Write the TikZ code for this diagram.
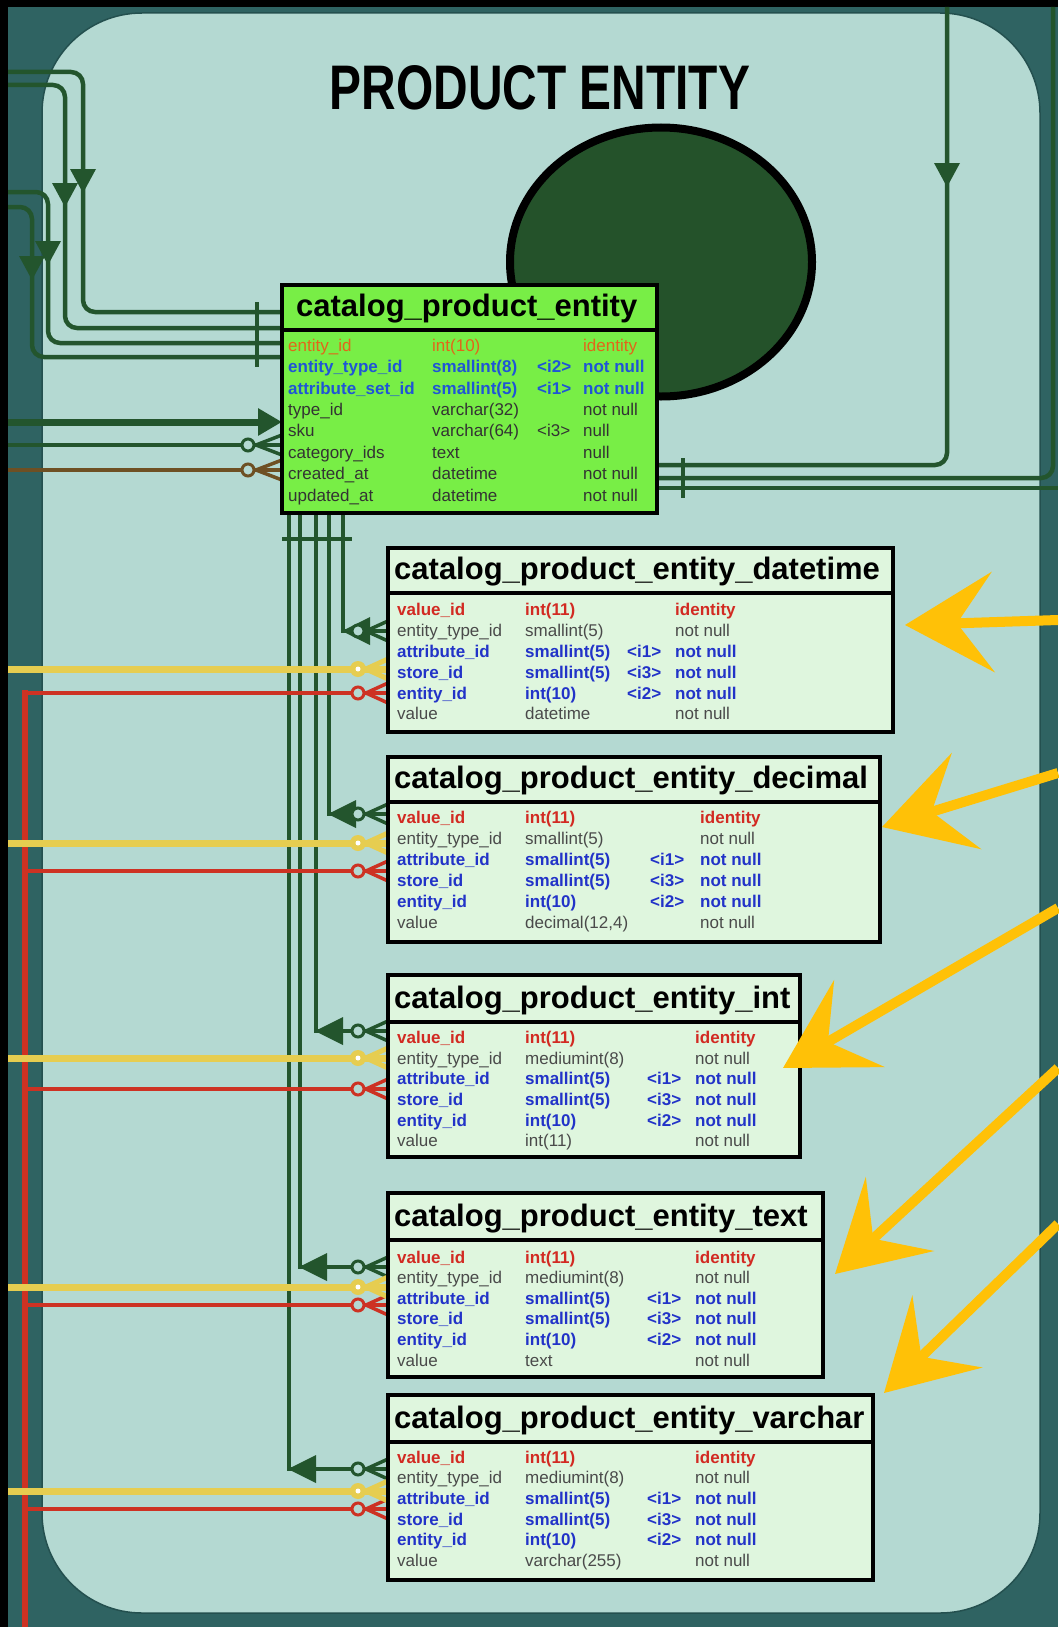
\documentclass[tikz,border=0pt]{standalone}
\usepackage{fontspec}
\usepackage{graphicx}
\setmainfont{Liberation Sans}
\usetikzlibrary{arrows.meta,shapes.geometric}
\definecolor{outerteal}{HTML}{2F6362}
\definecolor{innerteal}{HTML}{B4D9D2}
\definecolor{edgeteal}{HTML}{24504F}
\definecolor{gline}{HTML}{23552D}
\definecolor{brownline}{HTML}{6E5023}
\definecolor{yline}{HTML}{E6CD50}
\definecolor{rline}{HTML}{CD3223}
\definecolor{arrowgold}{HTML}{FFC107}
\definecolor{maingreen}{HTML}{78EE46}
\definecolor{childfill}{HTML}{DFF6DE}
\definecolor{blobgreen}{HTML}{24522A}
\definecolor{txtred}{HTML}{D22A22}
\definecolor{txtblue}{HTML}{2233C8}
\definecolor{txtgray}{HTML}{4A4A4A}
\definecolor{txtorange}{HTML}{E2661A}
\definecolor{txtmblue}{HTML}{1F55D6}
\definecolor{txtdark}{HTML}{333333}
\pgfdeclarelayer{back}
\pgfdeclarelayer{lines}
\pgfsetlayers{back,lines,main}
\newcommand\rowfont{\fontsize{17}{20}\selectfont}
\newcommand\hdrfont{\bfseries\fontsize{31}{31}\selectfont}
\newcommand\dtri[2]{\fill[gline] (#1-13,#2-24) -- (#1+13,#2-24) -- (#1,#2) -- cycle;}
\newcommand\ltri[2]{\fill[gline] (#1,#2) -- (#1+28,#2-14) -- (#1+28,#2+14) -- cycle;}
\newcommand\crowfoot[4]{\draw[#1] (#2,#3) -- (#4,#3-10) (#2,#3) -- (#4,#3+10) (#2,#3) -- (#4,#3);}
\newcommand\setcols[4]{\def\cxa{#1}\def\cxb{#2}\def\cxc{#3}\def\cxd{#4}}
\newcommand\trow[7]{%
 \node[cell,#3] (#1a) at (\cxa,#2+6) {#4};
 \node[cell,#3] (#1b) at (\cxb,#2+6) {#5};
 \node[cell,#3] (#1c) at (\cxc,#2+6) {#6};
 \node[cell,#3] (#1d) at (\cxd,#2+6) {#7};}
\newcommand\etab[9]{%
 \node[tabbox,fill=#7,anchor=north west,minimum width={(#4-#2)*1pt},minimum height={(#6-#3)*1pt}] (#1) at (#2,#3) {};
 \draw[line width=4pt] (#2,#5) -- (#4,#5);
 \node[hdr,anchor=base west] (#1-title) at (#2+#9,#5-14) {#8};}
\newcommand\childrows[9]{%
 \trow{#1r1}{#2}{tred}{value\_id}{int(11)}{}{identity}
 \trow{#1r2}{#3}{tgray}{entity\_type\_id}{#8}{}{not null}
 \trow{#1r3}{#4}{tblue}{attribute\_id}{smallint(5)}{<i1>}{not null}
 \trow{#1r4}{#5}{tblue}{store\_id}{smallint(5)}{<i3>}{not null}
 \trow{#1r5}{#6}{tblue}{entity\_id}{int(10)}{<i2>}{not null}
 \trow{#1r6}{#7}{tgray}{value}{#9}{}{not null}}
\begin{document}
\begin{tikzpicture}[x=1pt,y=-1pt,
  gl/.style={draw=gline,line width=4.5pt},
  yl/.style={draw=yline,line width=7pt},
  rl/.style={draw=rline,line width=4.5pt},
  brl/.style={draw=brownline,line width=4.5pt},
  tabbox/.style={draw=black,line width=4pt,inner sep=0pt,outer sep=0pt},
  hdr/.style={font=\hdrfont,inner sep=0pt,text=black},
  cell/.style={anchor=base west,inner sep=0pt,font=\rowfont},
  tred/.style={text=txtred,font=\rowfont\bfseries},
  tblue/.style={text=txtblue,font=\rowfont\bfseries},
  tgray/.style={text=txtgray},
  torange/.style={text=txtorange},
  tmblue/.style={text=txtmblue,font=\rowfont\bfseries},
  tdark/.style={text=txtdark},
  gcirc/.style={draw=gline,line width=3pt,fill=innerteal},
  rcirc/.style={draw=rline,line width=3pt,fill=innerteal},
  bcirc/.style={draw=brownline,line width=3pt,fill=innerteal},
  goldarrow/.style={draw=arrowgold,line width=10pt,-{Stealth[length=88pt,width=100pt,inset=36pt]}}]
\useasboundingbox (0,0) rectangle (1058,1627);
\begin{pgfonlayer}{back}
\fill[black] (0,0) rectangle (1058,1627);
\fill[outerteal] (8,7) rectangle (1058,1627);
\filldraw[fill=innerteal,draw=edgeteal,line width=1.5pt,rounded corners=100pt] (42,13) rectangle (1040,1613);
\end{pgfonlayer}
% title and blob
\node[font=\bfseries\fontsize{63}{63}\selectfont,inner sep=0pt] (title) at (540,88) {\scalebox{0.76}[1]{PRODUCT ENTITY}};
\node[ellipse,draw=black,line width=8pt,fill=blobgreen,minimum width=302pt,minimum height=269pt,inner sep=0pt] (blob) at (661,262) {};
% main table
\etab{tabm}{282}{285}{657}{330}{513}{maingreen}{catalog\_product\_entity}{14}
\setcols{288}{432}{537}{583}
\trow{tabmr1}{345}{torange}{entity\_id}{int(10)}{}{identity}
\trow{tabmr2}{366}{tmblue}{entity\_type\_id}{smallint(8)}{<i2>}{not null}
\trow{tabmr3}{388}{tmblue}{attribute\_set\_id}{smallint(5)}{<i1>}{not null}
\trow{tabmr4}{409}{tdark}{type\_id}{varchar(32)}{}{not null}
\trow{tabmr5}{430}{tdark}{sku}{varchar(64)}{<i3>}{null}
\trow{tabmr6}{452}{tdark}{category\_ids}{text}{}{null}
\trow{tabmr7}{473}{tdark}{created\_at}{datetime}{}{not null}
\trow{tabmr8}{495}{tdark}{updated\_at}{datetime}{}{not null}
% child tables
\etab{tdt}{388}{548}{893}{593}{732}{childfill}{catalog\_product\_entity\_datetime}{6}
\setcols{397}{525}{627}{675}
\childrows{tdt}{609}{630}{651}{672}{693}{713}{smallint(5)}{datetime}
\etab{tdc}{388}{757}{880}{802}{942}{childfill}{catalog\_product\_entity\_decimal}{6}
\setcols{397}{525}{650}{700}
\childrows{tdc}{817}{838}{859}{880}{901}{922}{smallint(5)}{decimal(12,4)}
\etab{tin}{388}{975}{800}{1022}{1157}{childfill}{catalog\_product\_entity\_int}{6}
\setcols{397}{525}{647}{695}
\childrows{tin}{1037}{1058}{1078}{1099}{1120}{1140}{mediumint(8)}{int(11)}
\etab{ttx}{388}{1193}{823}{1240}{1377}{childfill}{catalog\_product\_entity\_text}{6}
\childrows{ttx}{1257}{1277}{1298}{1318}{1339}{1360}{mediumint(8)}{text}
\etab{tvc}{388}{1395}{873}{1442}{1580}{childfill}{catalog\_product\_entity\_varchar}{6}
\childrows{tvc}{1457}{1477}{1498}{1519}{1539}{1560}{mediumint(8)}{varchar(255)}
% connectors
\begin{pgfonlayer}{lines}
% left, into the main table
\coordinate (inA) at (8,72);  \coordinate (bA) at (83,312);
\coordinate (inB) at (8,85);  \coordinate (bB) at (65,328);
\coordinate (inC) at (8,192); \coordinate (bC) at (48,343);
\coordinate (inD) at (8,207); \coordinate (bD) at (32,357);
\draw[gl,rounded corners=12pt] (inA) -| (bA) -- (tabm.west |- bA);
\draw[gl,rounded corners=12pt] (inB) -| (bB) -- (tabm.west |- bB);
\draw[gl,rounded corners=12pt] (inC) -| (bC) -- (tabm.west |- bC);
\draw[gl,rounded corners=12pt] (inD) -| (bD) -- (tabm.west |- bD);
\dtri{83}{193}\dtri{65}{207}\dtri{48}{265}\dtri{32}{280}
\draw[gl] (257,302) -- (257,367);
\coordinate (inE) at (8,422);
\draw[gl,line width=7pt,-{Triangle[length=24pt,width=26pt]}] (inE) -- (tabm.west |- inE);
\coordinate (inF) at (8,445);
\draw[gl] (inF) -- (tabm.west |- inF);
\crowfoot{gl,line width=3.5pt}{256}{445}{282}
\draw[gcirc] (248,445) circle (6pt);
\coordinate (inG) at (8,470);
\draw[brl] (inG) -- (tabm.west |- inG);
\crowfoot{brl,line width=3.5pt}{256}{470}{282}
\draw[bcirc] (248,470) circle (6pt);
% right side of main table
\coordinate (rtA) at (947,7);  \coordinate (meA) at (657,465);
\coordinate (rtB) at (1053,7); \coordinate (meB) at (657,478);
\coordinate (rtC) at (1058,488); \coordinate (meC) at (657,488);
\draw[gl,rounded corners=12pt] (rtA) |- (meA);
\draw[gl,rounded corners=12pt] (rtB) |- (meB);
\draw[gl] (meC) -- (rtC);
\dtri{947}{187}
\draw[gl] (683,458) -- (683,498);
% buses below main table
\coordinate (bus1) at (343,513); \coordinate (bus2) at (329,513);
\coordinate (bus3) at (316,513); \coordinate (bus4) at (300,513);
\coordinate (bus5) at (289,513);
\coordinate (g1) at (388,631);  \coordinate (g2) at (388,814);
\coordinate (g3) at (388,1031); \coordinate (g4) at (388,1267);
\coordinate (g5) at (388,1469);
\draw[gl] (bus1) |- (g1);
\draw[gl] (bus2) |- (g2);
\draw[gl] (bus3) |- (g3);
\draw[gl] (bus4) |- (g4);
\draw[gl] (bus5) |- (g5);
\draw[gl] (282,539) -- (352,539);
\ltri{342}{631}\ltri{328}{814}\ltri{315}{1031}\ltri{299}{1267}\ltri{288}{1469}
\foreach \yy in {631,814,1031,1267,1469}{
  \crowfoot{gl,line width=3.5pt}{366}{\yy}{388}
  \draw[gcirc] (358,\yy) circle (6pt);}
% red bus
\coordinate (rtop) at (25,690); \coordinate (rbot) at (25,1627);
\draw[rl,line width=6.5pt] (rtop) -- (rbot);
\coordinate (r1) at (388,693);  \coordinate (r2) at (388,871);
\coordinate (r3) at (388,1089); \coordinate (r4) at (388,1305);
\coordinate (r5) at (388,1509);
\draw[rl] (25,693) -- (r1);
\draw[rl] (25,871) -- (r2);
\draw[rl] (25,1089) -- (r3);
\draw[rl] (25,1305) -- (r4);
\draw[rl] (25,1509) -- (r5);
\foreach \yy in {693,871,1089,1305,1509}{
  \crowfoot{rl,line width=3.5pt}{366}{\yy}{388}
  \draw[rcirc] (358,\yy) circle (6pt);}
% yellow lines
\coordinate (y1) at (388,669);  \coordinate (y2) at (388,843);
\coordinate (y3) at (388,1058); \coordinate (y4) at (388,1287);
\coordinate (y5) at (388,1491);
\draw[yl] (8,669) -- (y1);
\draw[yl] (8,843) -- (y2);
\draw[yl] (8,1058) -- (y3);
\draw[yl] (8,1287) -- (y4);
\draw[yl] (8,1491) -- (y5);
\foreach \yy in {669,843,1058,1287,1491}{
  \crowfoot{yl,line width=5pt}{366}{\yy}{388}
  \fill[yline] (358,\yy) circle (8pt);
  \fill[white] (358,\yy) circle (2.5pt);}
\end{pgfonlayer}
% hand-drawn pointers
\coordinate (aS1) at (1058,620);  \coordinate (aT1) at (905,625);
\coordinate (aS2) at (1058,773);  \coordinate (aT2) at (882,827);
\coordinate (aS3) at (1058,908);  \coordinate (aT3) at (783,1068);
\coordinate (aS4) at (1058,1068); \coordinate (aT4) at (835,1274);
\coordinate (aS5) at (1058,1224); \coordinate (aT5) at (884,1393);
\draw[goldarrow] (aS1) -- (aT1);
\draw[goldarrow] (aS2) -- (aT2);
\draw[goldarrow] (aS3) -- (aT3);
\draw[goldarrow] (aS4) -- (aT4);
\draw[goldarrow] (aS5) -- (aT5);
\end{tikzpicture}
\end{document}
